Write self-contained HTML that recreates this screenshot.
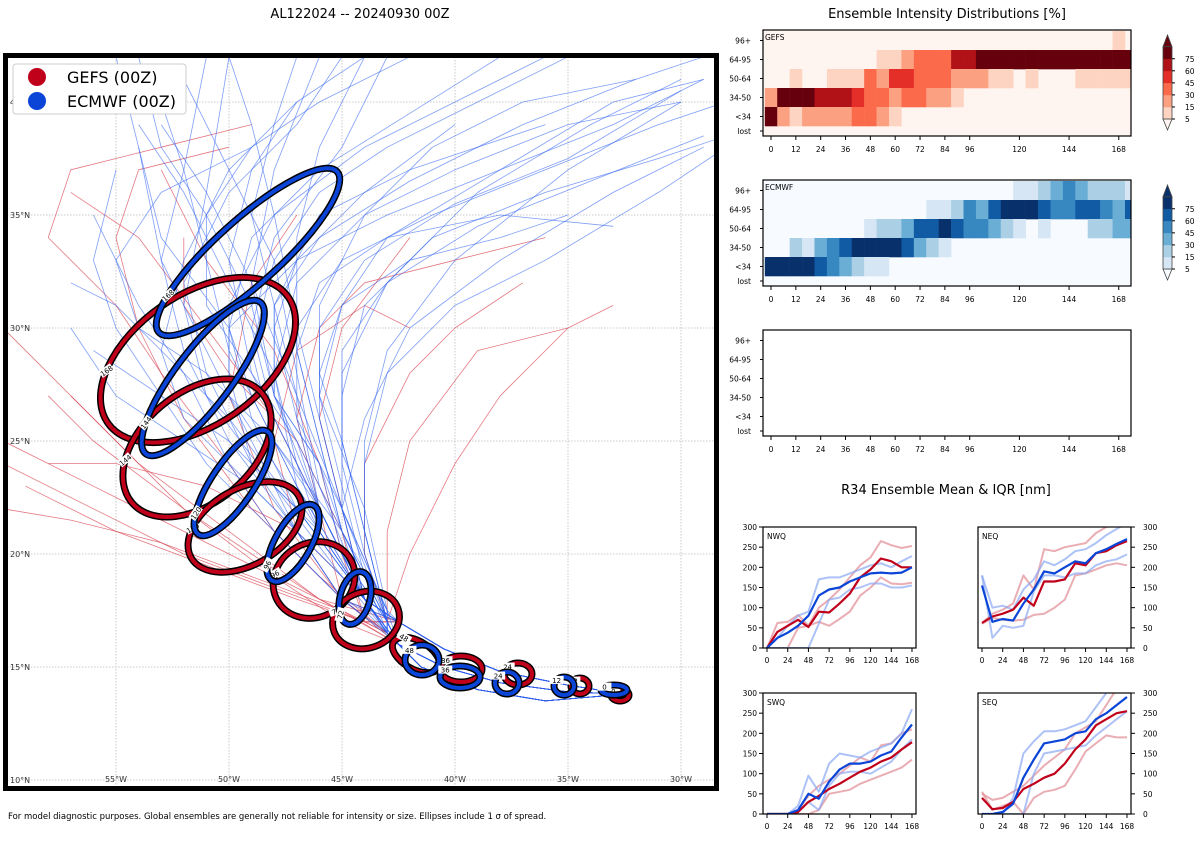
<!DOCTYPE html>
<html><head><meta charset="utf-8"><style>
body{margin:0;background:#fff;width:1200px;height:840px;overflow:hidden;font-family:"Liberation Sans","DejaVu Sans",sans-serif}
svg text{font-family:"DejaVu Sans","Liberation Sans",sans-serif}
</style></head><body>
<svg id="s" width="1200" height="840" xmlns="http://www.w3.org/2000/svg">
<text x="360" y="18" font-size="13" text-anchor="middle">AL122024 -- 20240930 00Z</text>
<text x="947" y="18" font-size="13" text-anchor="middle">Ensemble Intensity Distributions [%]</text>
<text x="946" y="494" font-size="13" text-anchor="middle">R34 Ensemble Mean &amp; IQR [nm]</text>
<text x="8" y="819" font-size="8.5">For model diagnostic purposes. Global ensembles are generally not reliable for intensity or size. Ellipses include 1 σ of spread.</text>
<defs><clipPath id="mapclip"><rect x="7" y="57" width="708" height="730"/></clipPath></defs>
<g id="map"></g>
<g id="heat"></g>
<g id="r34"></g>
</svg>
<script>
// ---------------- DATA ----------------
const lonTicks=[-55,-50,-45,-40,-35,-30];
const latTicks=[10,15,20,25,30,35,40];
const prefixes=[
[[-32.5,13.8],[-35,13.9],[-38,14.3],[-40.5,15],[-42.5,16]],
[[-32.5,13.8],[-36,13.5],[-39,14],[-41.5,15],[-43,16.5]],
[[-32.5,13.8],[-35,14.2],[-38,14.8],[-40.5,15.8],[-42.5,17]]
];
const ecTracks=[
[[-44,17.5],[-45,18],[-47,21],[-49,25],[-51,29],[-53,33],[-54,38],[-55,42]],
[[-44,18],[-45,21],[-46,25],[-47,29],[-47,34],[-46,38],[-44,42]],
[[-43,17],[-44,20],[-45,24],[-45,28],[-43,32],[-39,36],[-34,39],[-30,41]],
[[-45,18],[-48,21],[-50,24],[-52,28],[-54,31],[-56,35]],
[[-44,18],[-46,22],[-48,27],[-49,32],[-48,37],[-46,42]],
[[-43,17],[-44,21],[-44,25],[-43,29],[-40,33],[-35,37],[-30,40]],
[[-45,19],[-48,23],[-51,27],[-52,31],[-51,36],[-50,42]],
[[-44,18],[-47,22],[-50,25],[-53,27],[-56,29]],
[[-43,17],[-45,22],[-47,26],[-48,30],[-47,33],[-44,36],[-40,39]],
[[-44,19],[-46,23],[-47,28],[-48,33],[-50,37],[-52,41]],
[[-43,17.5],[-44,22],[-46,27],[-46,31],[-44,35],[-41,38],[-37,40],[-32,41]],
[[-44,18],[-46,21],[-47,24],[-49,28],[-50,33],[-49,37],[-47,40]],
[[-43,17],[-44,19],[-45,23],[-46,27],[-45,31],[-43,34],[-38,37],[-33,40],[-29,41]],
[[-44,18],[-47,23],[-49,27],[-50,30],[-53,34],[-54,38]],
[[-43,17],[-45,20],[-46,24],[-48,27],[-48,31],[-46,35],[-42,37],[-36,39]],
[[-44,18],[-45,22],[-44,26],[-42,30],[-38,33],[-33,36],[-29,38]],
[[-45,18],[-47,21],[-49,23],[-52,25],[-55,27],[-57,30]],
[[-43,17],[-45,21],[-48,25],[-50,29],[-51,33],[-52,37],[-53,40]],
[[-44,18],[-46,22],[-47,26],[-47,30],[-45,33],[-41,35],[-36,37],[-31,39],[-28,40]],
[[-44,18],[-45,22],[-46,26],[-46,30],[-44,33],[-40,35.5],[-35,37.5],[-30,40.5]],
[[-43,17],[-44,21],[-45,25],[-45,29],[-43,32],[-39,34.5],[-34,36.5],[-29,38.5]],
[[-44,18],[-46,23],[-48,27],[-48,31],[-46,34],[-42,36.5],[-37,39],[-32,41],[-29,42]],
[[-44,18],[-47,22],[-49,26],[-50,30],[-49,34],[-46,37],[-42,39.5],[-38,42]],
[[-43,17.5],[-45,21],[-46,25],[-47,29],[-46,32],[-43,34],[-38,35],[-33,34.5]],
[[-44,18],[-46,22],[-48,26],[-49,30],[-48,34],[-45,38],[-43,42]],
[[-44,18],[-47,21],[-50,25],[-52,29],[-53,33],[-52,37],[-51,42]],
[[-45,18],[-48,21],[-51,24],[-53,27],[-55,30],[-56,33],[-55,37]],
[[-44,18],[-46,21],[-49,24],[-51,28],[-52,32],[-50,36],[-47,39],[-45,42]],
[[-43,17],[-45,20],[-47,24],[-48,28],[-50,32],[-52,36],[-54,39]],
[[-44,18],[-46,22],[-47,27],[-48,31],[-49,35],[-48,39],[-47,42]],
[[-43,17],[-44,21],[-45,25],[-46,28],[-45,31],[-42,33],[-38,34],[-35,35]],
[[-44,18],[-47,22],[-50,26],[-53,29],[-55,31],[-57,32]],
[[-44,18],[-46,21],[-48,25],[-49,29],[-48,33],[-46,36],[-43,38],[-39,40],[-35,42]],
[[-43,17.5],[-45,22],[-46,26],[-47,30],[-48,35],[-49,39],[-50,42]],
[[-44,18],[-46,22],[-47,25],[-49,28],[-51,31],[-51,35],[-49,38],[-46,40],[-42,42]],
[[-43,17],[-44,20],[-44,24],[-43,28],[-40,31],[-36,33],[-31,36],[-28,38]],
[[-44,18],[-47,23],[-48,28],[-47,32],[-44,35],[-40,37],[-35,39],[-30,40]],
[[-45,18],[-47,21],[-49,24],[-50,28],[-50,31],[-48,35],[-44,38],[-40,40],[-36,42]],
[[-44,18],[-46,22],[-48,25],[-51,28],[-54,30],[-55,33],[-53,36],[-49,38]],
[[-43,17],[-45,21],[-46,24],[-48,27],[-49,31],[-51,35],[-53,38],[-54,42]],
[[-44,18],[-45,22],[-45,27],[-44,31],[-41,34],[-36,36],[-31,37.5],[-28,38.5]],
[[-44,18],[-47,21],[-49,23],[-52,26],[-53,29],[-52,33],[-50,37],[-47,40],[-44,42]],
[[-43,17.5],[-45,22],[-47,27],[-49,32],[-51,36],[-53,39]],
[[-44,18],[-46,21],[-48,24],[-50,27],[-50,30],[-47,33],[-43,35],[-38,37],[-33,39],[-29,41]]
];
const gfTracks=[
[[-45,17],[-48,19],[-52,22],[-56,25],[-58,27]],
[[-46,19],[-49,22],[-52,26],[-54,30],[-55,34],[-54,37],[-50,38]],
[[-45,18],[-47,21],[-48,25],[-47,29],[-44,31],[-42,30]],
[[-46,18],[-50,21],[-54,24],[-57,27]],
[[-44,18],[-45,22],[-46,26],[-45,30],[-42,34]],
[[-44,17],[-45,20],[-46,24],[-48,29],[-51,33],[-53,37]],
[[-43,17],[-43,21],[-42,25],[-39,29],[-35,30],[-33,31]],
[[-45,18],[-48,22],[-50,27],[-49,32],[-47,35]],
[[-44,18],[-47,21],[-51,23],[-55,24],[-58,24]],
[[-43,17],[-44,20],[-44,24],[-42,28],[-40,30],[-37,32]],
[[-45,18],[-46,22],[-48,26],[-51,30],[-54,34],[-57,36]],
[[-44,17],[-47,18],[-51,19.5],[-55,21],[-59,23]],
[[-45,17.5],[-48,19],[-52,21],[-56,23],[-60,25]],
[[-44,17],[-48,18.5],[-52,20],[-56,22],[-60,24]],
[[-46,18],[-49,20],[-52,22],[-55,25],[-58,28],[-60,30]],
[[-45,18],[-48,21],[-50,24],[-53,28],[-55,31],[-58,34],[-57,37],[-53,38],[-49,39]],
[[-44,18],[-46,22],[-47,26],[-46,30],[-44,32],[-40,33],[-36,34]],
[[-44,17],[-45,21],[-47,25],[-50,28],[-52,31],[-52,34]],
[[-43,17],[-42,20],[-40,24],[-38,27],[-36,29],[-35,30]],
[[-45,17.5],[-49,19],[-53,20.5],[-57,21.5],[-60,22]]
];
// ellipses: [cx, cy, rx, ry, rotation] in map pixels, hour label
const gfEll=[[198,360,110,65,-35],[197,448,85,55,-40],[245,527,62,38,-30],[314,580,42,37,-30],[366,620,34,28,-20],[416,655,26,14,30],[461,669,21,13,0],[518,674,14,11,0],[580,686,9,8,0],[620,695,9,6,0]];
const ecEll=[[248,252,120,32,-42],[203,378,95,28,-53],[233,483,62,21,-56],[293,543,43,18,-61],[355,598,27,15,-75],[422,660,17,15,0],[460,677,20,11,0],[507,683,12,11,0],[564,686,10,9,0],[614,690,13,5,0]];
const ellHours=[168,144,120,96,72,48,36,24,12,0];

const heatRows=['96+','64-95','50-64','34-50','<34','lost'];
const heatTicks=[0,12,24,36,48,60,72,84,96,120,144,168];
const cbTicks=[5,15,30,45,60,75];
const redPal=['#fff5f0','#fdd4c2','#fca082','#fb6b4b','#e32f27','#b11218','#67000d'];
const bluePal=['#f7fbff','#d6e6f4','#abd0e6','#6aaed6','#3787c0','#105ba4','#08306b'];
const gefs=[
[0,0,0,0,0,0,0,0,0,0,0,0,0,0,0,0,0,0,0,0,0,0,0,0,0,0,0,0,1,0],
[0,0,0,0,0,0,0,0,0,1,1,2,3,3,3,5,5,6,6,6,6,6,6,6,6,6,6,6,6,6],
[0,0,1,0,0,1,1,1,3,2,4,4,3,3,3,2,2,2,1,1,0,1,0,0,0,1,1,1,1,1],
[2,6,6,6,5,5,5,4,3,3,2,3,3,2,2,1,0,0,0,0,0,0,0,0,0,0,0,0,0,0],
[6,2,1,2,2,2,2,3,3,2,1,0,0,0,0,0,0,0,0,0,0,0,0,0,0,0,0,0,0,0],
[0,0,0,0,0,0,0,0,0,0,0,0,0,0,0,0,0,0,0,0,0,0,0,0,0,0,0,0,0,0]];
const ecmwf=[
[0,0,0,0,0,0,0,0,0,0,0,0,0,0,0,0,0,0,0,0,1,1,2,3,4,3,2,2,2,1],
[0,0,0,0,0,0,0,0,0,0,0,0,0,1,1,2,4,3,5,6,6,6,5,4,4,5,5,4,3,5],
[0,0,0,0,0,0,0,0,1,2,2,3,5,5,6,5,4,4,3,2,1,0,1,0,0,0,2,2,3,3],
[0,0,2,1,3,4,5,6,6,6,6,5,3,2,1,0,0,0,0,0,0,0,0,0,0,0,0,0,0,0],
[6,6,6,6,5,4,3,2,1,1,0,0,0,0,0,0,0,0,0,0,0,0,0,0,0,0,0,0,0,0],
[0,0,0,0,0,0,0,0,0,0,0,0,0,0,0,0,0,0,0,0,0,0,0,0,0,0,0,0,0,0]];

const r34Hours=[0,12,24,36,48,60,72,84,96,108,120,132,144,156,168];
const r34Ticks=[0,24,48,72,96,120,144,168];
const r34YTicks=[0,50,100,150,200,250,300];
const nwGm=[0,40,55,70,52,90,88,110,135,175,195,222,215,200,200];
const nwEm=[0,25,38,55,80,130,145,150,165,175,185,187,185,187,200];
const nwGl=[0,0,0,50,55,65,55,72,90,130,150,175,160,158,162];
const nwGh=[0,62,65,82,55,100,120,145,175,205,225,265,255,248,253];
const nwEl=[0,0,0,0,0,60,120,125,145,150,160,160,150,150,155];
const nwEh=[0,25,55,80,90,170,175,175,185,195,205,210,200,215,228];
const neGm=[62,78,85,95,125,105,165,165,170,210,205,235,240,255,265];
const neEm=[155,65,72,68,110,145,190,185,200,215,210,235,245,258,270];
const neGl=[60,75,70,68,70,82,85,100,120,180,185,195,205,210,205];
const neGh=[62,85,95,110,180,145,245,240,250,255,260,285,300,310,310];
const neEl=[180,25,55,50,55,140,180,180,175,185,185,205,215,220,232];
const neEh=[180,100,105,95,145,170,215,205,220,240,245,260,280,295,310];
const swGm=[0,0,0,5,30,45,62,75,90,105,115,130,140,160,178];
const swEm=[0,0,0,10,50,38,80,110,125,125,130,145,155,190,222];
const swGl=[0,0,0,0,0,10,50,55,60,75,85,95,105,115,135];
const swGh=[0,0,0,10,45,70,85,100,120,140,130,170,175,200,210];
const swEl=[0,0,0,5,30,10,70,100,105,105,100,115,130,160,185];
const swEh=[0,0,0,20,95,55,125,150,145,140,155,165,175,200,260];
const seGm=[40,12,15,30,62,75,90,100,125,160,185,220,235,250,255];
const seEm=[0,0,5,25,90,135,175,180,185,200,205,235,250,270,290];
const seGl=[55,10,20,30,0,40,55,60,70,110,155,175,195,190,190];
const seGh=[50,35,40,55,70,95,120,140,160,200,215,230,270,310,330];
const seEl=[0,0,0,0,0,100,150,155,160,165,170,195,215,235,255];
const seEh=[0,0,0,40,150,180,205,205,210,220,230,265,300,320,340];

// ---------------- HELPERS ----------------
const NS='http://www.w3.org/2000/svg';
function mk(tag,attrs,parent,txt){const e=document.createElementNS(NS,tag);for(const k in attrs)e.setAttribute(k,attrs[k]);if(txt!==undefined)e.textContent=txt;parent.appendChild(e);return e;}
const lonX=l=>116+(l+55)*22.6;
const latY=l=>667-(l-15)*22.6;

// ---------------- MAP ----------------
const map=document.getElementById('map');
const mg=mk('g',{'clip-path':'url(#mapclip)'},map);
lonTicks.forEach(l=>{const g=mk('line',{x1:lonX(l),x2:lonX(l),y1:57,y2:787,stroke:'#bbb','stroke-width':0.8,'stroke-dasharray':'1.5,1.5'},mg);

});
latTicks.forEach(l=>{const g=mk('line',{x1:7,x2:715,y1:latY(l),y2:latY(l),stroke:'#bbb','stroke-width':0.8,'stroke-dasharray':'1.5,1.5'},mg);

});
function drawTrack(t,i,color,op){const pts=prefixes[i%3].concat(t).map(p=>lonX(p[0]).toFixed(1)+','+latY(p[1]).toFixed(1)).join(' ');
const e=mk('polyline',{points:pts,fill:'none',stroke:color,'stroke-width':0.8,'stroke-linejoin':'round',opacity:op},mg);

}
gfTracks.forEach((t,i)=>drawTrack(t,i,'#d9404e',0.7));
ecTracks.forEach((t,i)=>drawTrack(t,i+1,'#2a5ef0',0.6));
function drawEll(e,h,color){
const g=mk('g',{transform:`translate(${e[0]},${e[1]}) rotate(${e[4]})`},mg);


mk('ellipse',{cx:0,cy:0,rx:e[2],ry:e[3],fill:'none',stroke:'#000','stroke-width':7},g);
mk('ellipse',{cx:0,cy:0,rx:e[2],ry:e[3],fill:'none',stroke:color,'stroke-width':4},g);
const lx=e[2]*Math.cos(2.4),ly=-e[3]*Math.sin(2.4);
mk('rect',{x:lx-7,y:ly-4,width:14,height:8,fill:'#fff'},g);
mk('text',{x:lx,y:ly+3,'font-size':7,'text-anchor':'middle'},g,String(h));}
gfEll.forEach((e,i)=>drawEll(e,ellHours[i],'#c0001b'));
ecEll.forEach((e,i)=>drawEll(e,ellHours[i],'#0a45d8'));
mk('rect',{x:5.5,y:55.5,width:711,height:733,fill:'none',stroke:'#000','stroke-width':5},map);
lonTicks.forEach(l=>{const t=mk('text',{x:lonX(l),y:782,'font-size':8,'text-anchor':'middle',fill:'#333'},map,Math.abs(l)+'°W');

});
latTicks.forEach(l=>{const t=mk('text',{x:10,y:latY(l)+3,'font-size':8,fill:'#333'},map,l+'°N');

});
const lg=mk('g',{},map);


mk('rect',{x:13,y:64,width:173,height:50,rx:3,fill:'#fff',stroke:'#ccc','stroke-width':1},lg);
mk('circle',{cx:37,cy:77,r:9,fill:'#c0001b'},lg);
mk('circle',{cx:37,cy:101,r:9,fill:'#0a45d8'},lg);
mk('text',{x:67,y:83,'font-size':16},lg,'GEFS (00Z)');
mk('text',{x:67,y:107,'font-size':16},lg,'ECMWF (00Z)');

// ---------------- HEATMAPS ----------------
const heat=document.getElementById('heat');
const hx=h=>771+h*2.07;
function heatPanel(y0,data,pal,label){
const g=mk('g',{},heat);


const rowY=i=>y0+1+i*19, rowH=i=>i<5?19:10;
mk('rect',{x:763,y:y0,width:368,height:106,fill:data?pal[0]:'#fff'},g);
if(data){data.forEach((row,i)=>row.forEach((v,k)=>{
const x1=Math.max(764,hx(6*k)-6.2),x2=Math.min(1131,hx(6*k)+6.2);
if(x2<=x1||v===0)return;
const c=mk('rect',{x:x1,y:rowY(i),width:x2-x1+0.3,height:rowH(i)+0.3,fill:pal[v]},g);

}));}
mk('rect',{x:763,y:y0,width:368,height:106,fill:'none',stroke:'#000','stroke-width':1.2},g);
if(label)mk('text',{x:765,y:y0+10,'font-size':7.5},g,label);
heatRows.forEach((r,i)=>{const yy=rowY(i)+rowH(i)/2;mk('line',{x1:760,x2:763,y1:yy,y2:yy,stroke:'#000'},g);
mk('text',{x:751,y:yy+3,'font-size':7.5,'text-anchor':'end'},g,r);});
heatTicks.forEach(h=>{mk('line',{x1:hx(h),x2:hx(h),y1:y0+106,y2:y0+110,stroke:'#000'},g);
mk('text',{x:hx(h),y:y0+122,'font-size':7.5,'text-anchor':'middle'},g,String(h));});
}
heatPanel(30,gefs,redPal,'GEFS');
heatPanel(180,ecmwf,bluePal,'ECMWF');
heatPanel(330,null,null,null);
function colorbar(y0,pal,name){
const g=mk('g',{},heat);


const top=y0+16.7,bot=y0+89,bh=(bot-top)/6;
mk('polygon',{points:`1163,${top} 1172,${top} 1167.5,${y0+5}`,fill:pal[6],stroke:'#444','stroke-width':0.8},g);
mk('polygon',{points:`1163,${bot} 1172,${bot} 1167.5,${y0+100}`,fill:pal[0],stroke:'#444','stroke-width':0.8},g);
for(let i=0;i<6;i++)mk('rect',{x:1163,y:bot-(i+1)*bh,width:9,height:bh+0.3,fill:pal[i+1]},g);
mk('rect',{x:1163,y:top,width:9,height:bot-top,fill:'none',stroke:'#444','stroke-width':0.8},g);
cbTicks.forEach((t,i)=>{const yy=bot-i*bh;mk('line',{x1:1172,x2:1175,y1:yy,y2:yy,stroke:'#000'},g);
mk('text',{x:1185,y:yy+3,'font-size':7.5},g,String(t));});
}
colorbar(30,redPal,'gefs-colorbar');
colorbar(180,bluePal,'ecmwf-colorbar');

// ---------------- R34 ----------------
const r34=document.getElementById('r34');
function r34Panel(x0,y0,label,right,series){
const g=mk('g',{},r34);


const X=h=>x0+4+h*0.863, Y=v=>y0+121-v*0.4033;
const id='c'+label;
const cp=mk('clipPath',{id:id},g);mk('rect',{x:x0,y:y0,width:153,height:121},cp);
const pg=mk('g',{'clip-path':`url(#${id})`},g);
series.forEach(s=>{const pts=r34Hours.map((h,i)=>X(h).toFixed(1)+','+Y(s[0][i]).toFixed(1)).join(' ');
const l=mk('polyline',{points:pts,fill:'none',stroke:s[1],'stroke-width':s[2],'stroke-linejoin':'round',opacity:s[3]},pg);

});
mk('rect',{x:x0,y:y0,width:153,height:121,fill:'none',stroke:'#000','stroke-width':1.2},g);
mk('text',{x:x0+4,y:y0+12,'font-size':7.5},g,label);
r34Ticks.forEach(h=>{mk('line',{x1:X(h),x2:X(h),y1:y0+121,y2:y0+125,stroke:'#000'},g);
mk('text',{x:X(h),y:y0+136,'font-size':7.5,'text-anchor':'middle'},g,String(h));});
r34YTicks.forEach(v=>{const xx=right?x0+153:x0;mk('line',{x1:xx,x2:right?xx+4:xx-4,y1:Y(v),y2:Y(v),stroke:'#000'},g);
mk('text',{x:right?xx+12:xx-6,y:Y(v)+3,'font-size':7.5,'text-anchor':right?'start':'end'},g,String(v));});
}
function S(gm,em,gl,gh,el,eh){return [[gl,'#e08a93',2,0.7,'gefs-q25'],[gh,'#e08a93',2,0.7,'gefs-q75'],[el,'#8aa8f2',2,0.7,'ecmwf-q25'],[eh,'#8aa8f2',2,0.7,'ecmwf-q75'],[gm,'#c0001b',2.2,1,'gefs-mean'],[em,'#0a45d8',2.2,1,'ecmwf-mean']];}
r34Panel(763,527,'NWQ',false,S(nwGm,nwEm,nwGl,nwGh,nwEl,nwEh));
r34Panel(978,527,'NEQ',true,S(neGm,neEm,neGl,neGh,neEl,neEh));
r34Panel(763,693,'SWQ',false,S(swGm,swEm,swGl,swGh,swEl,swEh));
r34Panel(978,693,'SEQ',true,S(seGm,seEm,seGl,seGh,seEl,seEh));
</script>
</body></html>
